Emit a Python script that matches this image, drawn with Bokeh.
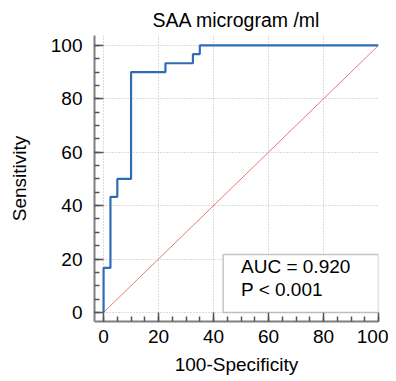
from bokeh.plotting import figure
from bokeh.models import Range1d, FixedTicker, BoxAnnotation, Label
from bokeh.embed import file_html
from bokeh.resources import INLINE

# ROC data (100-Specificity, Sensitivity)
fpr = [0, 0, 2.5, 5, 10, 22.5, 32.5, 35, 100]
sens = [0, 16.7, 43.3, 50, 90, 93.3, 96.7, 100, 100]
diag_x = [0, 100]
diag_y = [0, 100]
ticks = [0, 20, 40, 60, 80, 100]
minor = list(range(0, 101, 5))
title_text = "SAA microgram /ml"
x_label = "100-Specificity"
y_label = "Sensitivity"
auc_text = "AUC = 0.920"
p_text = "P < 0.001"

FONT = "Liberation Sans"
FS = "19px"

p = figure(width=388, height=381, output_backend="svg", toolbar_location=None,
           x_range=Range1d(-3.3, 100), y_range=Range1d(-3.4, 103.7),
           min_border_left=94, min_border_right=10, min_border_top=35, min_border_bottom=60,
           title=title_text)
p.outline_line_color = None
p.title.align = "center"
p.title.text_font = FONT
p.title.text_font_size = "19.5px"
p.title.text_font_style = "normal"
p.title.text_color = "black"

for ax in (p.xaxis[0], p.yaxis[0]):
    ax.ticker = FixedTicker(ticks=ticks, minor_ticks=minor)
    ax.axis_line_color = "#7f7f7f"
    ax.axis_line_width = 2
    ax.major_tick_in = 9
    ax.major_tick_out = 0
    ax.minor_tick_in = 5
    ax.minor_tick_out = 0
    ax.major_tick_line_color = "#555555"
    ax.minor_tick_line_color = "#555555"
    ax.major_tick_line_width = 1.5
    ax.minor_tick_line_width = 1.5
    ax.major_label_text_font = FONT
    ax.major_label_text_font_size = FS
    ax.major_label_text_color = "black"
    ax.axis_label_text_font = FONT
    ax.axis_label_text_font_size = FS
    ax.axis_label_text_font_style = "normal"
    ax.axis_label_text_color = "black"

p.yaxis.major_label_standoff = 12
p.xaxis.major_label_standoff = 8
p.xaxis.axis_label = x_label
p.yaxis.axis_label = y_label
p.xaxis.axis_label_standoff = 8
p.yaxis.axis_label_standoff = 18

for g in (p.xgrid[0], p.ygrid[0]):
    g.ticker = FixedTicker(ticks=ticks)
    g.grid_line_color = "#b8b8b8"
    g.grid_line_dash = "1 2"
    g.grid_line_width = 1

p.line(diag_x, diag_y, line_color="#e07c7c", line_width=1)
p.step(fpr, sens, mode="after", line_color="#2e6db4", line_width=2.2)

box = BoxAnnotation(left=43.5, right=100, bottom=0, top=21.7,
                    fill_color="white", fill_alpha=1.0,
                    line_color="#404040", line_width=1.5)
p.add_layout(box)
p.add_layout(Label(x=50, y=13.3, text=auc_text, text_font=FONT, text_font_size=FS,
                   text_color="black"))
p.add_layout(Label(x=50, y=4.6, text=p_text, text_font=FONT, text_font_size=FS,
                   text_color="black"))

open("out.html", "w").write(file_html(p, INLINE))
